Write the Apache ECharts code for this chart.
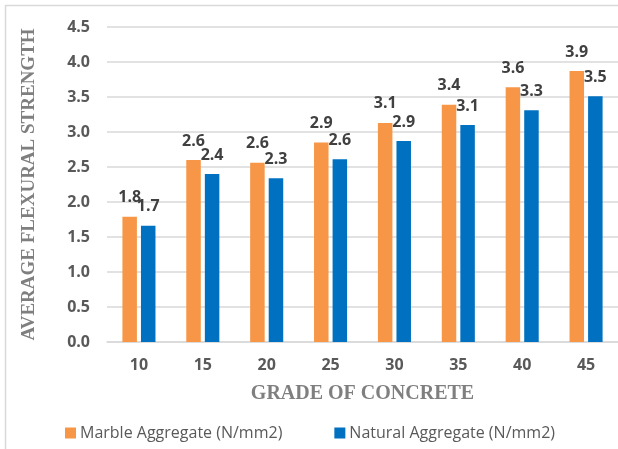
<!DOCTYPE html>
<html>
<head>
<meta charset="utf-8">
<style>
  html, body { margin: 0; padding: 0; background: #ffffff; }
  #chart { width: 618px; height: 449px; }
</style>
<script src="https://cdn.jsdelivr.net/npm/echarts@6/dist/echarts.min.js"></script>
</head>
<body>
<div id="chart"></div>
<script>
// Concrete grades (x axis)
var grades = ['10', '15', '20', '25', '30', '35', '40', '45'];
// Average flexural strength, N/mm2
var marbleAggregate = [1.79, 2.6, 2.56, 2.85, 3.13, 3.39, 3.64, 3.87];
var naturalAggregate = [1.66, 2.4, 2.34, 2.61, 2.87, 3.1, 3.31, 3.51];
var seriesNames = ['Marble Aggregate (N/mm2)', 'Natural Aggregate (N/mm2)'];
var seriesColors = ['#F79646', '#0070C0'];

var chart = echarts.init(document.getElementById('chart'), null, { renderer: 'canvas' });

var sansBold = { fontFamily: 'Open Sans', fontWeight: 'bold' };

function barSeries(name, data, color) {
  return {
    name: name,
    type: 'bar',
    data: data,
    barWidth: 14.5,
    barGap: '28%',
    itemStyle: { color: color },
    label: {
      show: true,
      position: 'top',
      distance: 11,
      color: '#404040',
      fontFamily: 'Open Sans',
      fontWeight: 'bold',
      fontSize: 16,
      formatter: function (p) { return p.value.toFixed(1); }
    }
  };
}

chart.setOption({
  animation: false,
  backgroundColor: '#ffffff',
  graphic: [{
    type: 'rect',
    shape: { x: 5.5, y: 5.5, width: 700, height: 600 },
    style: { fill: 'none', stroke: '#d9d9d9', lineWidth: 1.5 },
    silent: true
  }],
  grid: { left: 107, top: 27, width: 516, height: 315 },
  legend: {
    left: 60,
    top: 420,
    itemWidth: 11,
    itemHeight: 11,
    itemGap: 52,
    icon: 'rect',
    textStyle: { color: '#595959', fontFamily: 'Open Sans', fontSize: 16, padding: [0, 0, 0, -1] },
    data: seriesNames
  },
  xAxis: {
    type: 'category',
    data: grades,
    name: 'GRADE OF CONCRETE',
    nameLocation: 'middle',
    nameGap: 42,
    nameTextStyle: { color: '#7f7f7f', fontFamily: 'Liberation Serif', fontWeight: 'bold', fontSize: 20 },
    axisLine: { lineStyle: { color: '#d9d9d9', width: 1.5 } },
    axisTick: { show: false },
    axisLabel: Object.assign({ color: '#595959', fontSize: 16, margin: 15 }, sansBold)
  },
  yAxis: {
    type: 'value',
    min: 0,
    max: 4.5,
    interval: 0.5,
    name: 'AVERAGE FLEXURAL STRENGTH',
    nameLocation: 'middle',
    nameGap: 68,
    nameTextStyle: { color: '#7f7f7f', fontFamily: 'Liberation Serif', fontWeight: 'bold', fontSize: 19 },
    axisLine: { show: false },
    axisTick: { show: false },
    splitLine: { lineStyle: { color: '#d9d9d9', width: 1.5 } },
    axisLabel: Object.assign({
      color: '#595959', fontSize: 16, margin: 17,
      formatter: function (v) { return v.toFixed(1); }
    }, sansBold)
  },
  series: [
    barSeries(seriesNames[0], marbleAggregate, seriesColors[0]),
    barSeries(seriesNames[1], naturalAggregate, seriesColors[1])
  ]
});
</script>
</body>
</html>
